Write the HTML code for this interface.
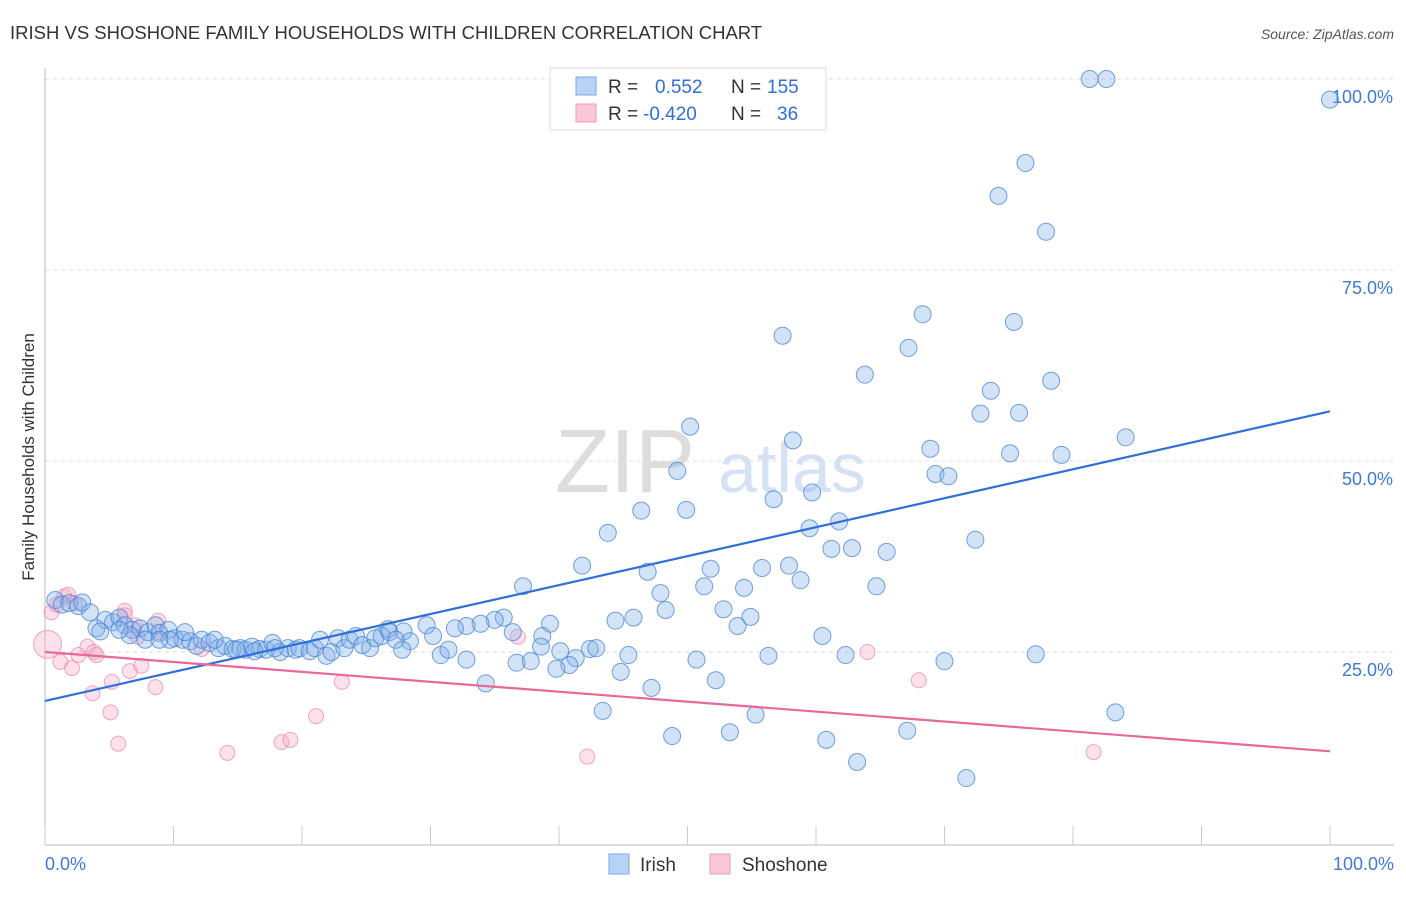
<!DOCTYPE html>
<html><head><meta charset="utf-8"><style>
body{margin:0;background:#fff;font-family:"Liberation Sans",sans-serif;}
svg text{font-family:"Liberation Sans",sans-serif;}
</style></head><body>
<svg id="c" width="1406" height="892">
<text x="10" y="39" font-size="18.5" fill="#333">IRISH VS SHOSHONE FAMILY HOUSEHOLDS WITH CHILDREN CORRELATION CHART</text>
<text x="1394" y="39" font-size="14" fill="#555" text-anchor="end" font-style="italic">Source: ZipAtlas.com</text>
<text x="555" y="492" font-size="90" fill="#ddd" font-family="Liberation Serif">ZIP</text>
<text x="718" y="492" font-size="70" fill="#d4e2f4">atlas</text>
<text transform="translate(34,457) rotate(-90)" font-size="17" fill="#333" text-anchor="middle">Family Households with Children</text>
<g id="grid"></g><g id="pts"></g><g id="trend"></g>
<g>
<rect x="550" y="68" width="276" height="62" fill="#fff" stroke="#ddd"/>
<rect x="576" y="77" width="20" height="18" fill="#b8d3f5" stroke="#7aa9e3"/>
<rect x="576" y="104" width="20" height="18" fill="#fac8d8" stroke="#f09ab8"/>
<text x="608" y="93" font-size="19" fill="#333">R =</text><text x="655" y="93" font-size="19" fill="#2f6fd8">0.552</text>
<text x="731" y="93" font-size="19" fill="#333">N =</text><text x="767" y="93" font-size="19" fill="#2f6fd8">155</text>
<text x="608" y="120" font-size="19" fill="#333">R =</text><text x="643" y="120" font-size="19" fill="#2f6fd8">-0.420</text>
<text x="731" y="120" font-size="19" fill="#333">N =</text><text x="777" y="120" font-size="19" fill="#2f6fd8">36</text>
</g>
<g>
<rect x="609" y="854" width="20" height="20" fill="#b8d3f5" stroke="#7aa9e3"/>
<text x="640" y="871" font-size="19" fill="#333">Irish</text>
<rect x="710" y="854" width="20" height="20" fill="#fac8d8" stroke="#f09ab8"/>
<text x="742" y="871" font-size="19" fill="#333">Shoshone</text>
</g>
</svg>
<script>
const yTicks=[25,50,75,100];
const yTickLabels=["25.0%","50.0%","75.0%","100.0%"];
const xTickLabels=["0.0%","100.0%"];
const irishX=[81.3,82.6,100,76.3,74.2,77.9,68.3,75.4,57.4,67.2,63.8,78.3,73.6,72.8,75.8,84.1,50.2,58.2,68.9,75.1,79.1,49.2,69.3,70.3,59.7,56.7,46.4,49.9,61.8,59.5,43.8,72.4,61.2,62.8,65.5,41.8,55.8,57.9,51.8,46.9,58.8,37.2,54.4,51.3,64.7,47.9,52.8,48.3,45.8,44.4,54.9,39.3,53.9,35.7,35.0,33.9,32.8,31.9,60.5,38.7,36.4,29.7,30.2,27.9,26.7,28.4,38.6,42.4,42.9,40.1,45.4,62.3,50.7,70.0,77.1,56.3,36.7,37.8,41.3,40.8,39.8,44.8,32.8,30.8,31.4,52.2,47.2,34.3,43.4,83.3,55.3,67.1,53.3,48.8,60.8,63.2,71.7,
0.8,1.3,1.9,2.6,2.9,3.5,4.0,4.7,5.3,5.8,6.2,6.8,7.4,8.0,8.6,8.9,9.6,10.1,10.7,11.3,11.8,12.2,12.8,13.5,14.0,14.6,15.2,15.6,16.1,16.7,17.2,17.7,18.3,18.9,19.5,19.8,20.6,21.0,21.4,21.9,22.3,22.8,23.3,23.7,24.2,24.7,25.3,25.7,26.2,26.8,27.3,27.8,4.3,10.9,13.2,14.9,16.3,6.6,9.7,7.8,17.9,5.8,8.9];
const irishY=[100,100,97.3,89.0,84.7,80.0,69.2,68.2,66.4,64.8,61.3,60.5,59.2,56.2,56.3,53.1,54.5,52.7,51.6,51.0,50.8,48.7,48.3,48.0,45.9,45.0,43.5,43.6,42.1,41.2,40.6,39.7,38.5,38.6,38.1,36.3,36.0,36.3,35.9,35.5,34.4,33.6,33.4,33.6,33.6,32.7,30.6,30.5,29.5,29.1,29.6,28.7,28.4,29.5,29.2,28.7,28.4,28.1,27.1,27.1,27.6,28.5,27.1,27.7,28.0,26.4,25.7,25.4,25.5,25.1,24.6,24.6,24.0,23.8,24.7,24.5,23.6,23.8,24.2,23.3,22.8,22.4,24.0,24.6,25.3,21.3,20.3,20.9,17.3,17.1,16.8,14.7,14.5,14.0,13.5,10.6,8.5,
31.8,31.2,31.4,31.0,31.5,30.2,28.1,29.2,28.9,29.5,28.5,27.9,28.1,27.6,28.5,27.5,27.9,26.8,26.6,26.4,25.8,26.6,26.2,25.5,25.8,25.4,25.5,25.3,25.7,25.4,25.3,26.2,25.0,25.5,25.3,25.5,25.1,25.5,26.6,24.5,25.0,26.8,25.5,26.6,27.1,25.9,25.5,26.8,27.1,27.6,26.6,25.3,27.7,27.6,26.6,25.3,25.1,27.2,26.6,26.6,25.5,27.9,26.6];
const shoX=[0.2,0.5,0.9,1.5,1.8,2.3,1.2,2.1,2.6,3.3,3.8,4.0,3.7,5.1,5.2,5.7,6.2,6.6,7.2,7.5,8.6,8.8,8.9,12.2,14.2,18.4,19.1,21.1,23.1,36.8,42.2,64.0,68.0,81.6,7.0,6.2];
const shoY=[26.0,30.2,31.2,32.3,32.5,31.4,23.7,22.9,24.6,25.7,25.0,24.6,19.6,17.1,21.1,13.0,30.4,22.5,27.0,23.2,20.4,29.1,27.6,25.4,11.8,13.2,13.5,16.6,21.1,27.0,11.3,25.0,21.3,11.9,28.5,29.8];
const irishTrend=[18.6,56.5];
const shoTrend=[25.0,12.0];
const X0=45,X1=1330,Y0=843,Y100=79;
const sx=v=>X0+(X1-X0)*v/100, sy=v=>Y0-(Y0-Y100)*v/100;
const NS="http://www.w3.org/2000/svg";
function mk(t,a,p){const e=document.createElementNS(NS,t);for(const k in a)e.setAttribute(k,a[k]);p.appendChild(e);return e;}
const grid=document.getElementById('grid');
yTicks.forEach((v,i)=>{
 const l=mk('line',{x1:X0,x2:1394,y1:sy(v),y2:sy(v),stroke:'#ddd','stroke-dasharray':'4,4'},grid);
 
 
 const t=mk('text',{x:1393,y:sy(v)+24,'font-size':18,fill:'#3d7ad8','text-anchor':'end'},grid);t.textContent=yTickLabels[i];
 
 
});
const ax=mk('line',{x1:X0,x2:X0,y1:68,y2:845,stroke:'#bbb'},grid);


const bx=mk('line',{x1:X0,x2:1394,y1:845,y2:845,stroke:'#bbb'},grid);


for(let i=0;i<=10;i++){const tk=mk('line',{x1:sx(i*10),x2:sx(i*10),y1:826,y2:845,stroke:'#ccc'},grid);
 
 }
[[0,'start',45],[100,'end',1394]].forEach((d,i)=>{const t=mk('text',{x:d[2],y:870,'font-size':18,fill:'#3d7ad8','text-anchor':d[1]},grid);t.textContent=xTickLabels[i];
 
 });
const pts=document.getElementById('pts');
shoX.forEach((x,i)=>{const c=mk('circle',{cx:sx(x),cy:sy(shoY[i]),r:i==0?14:7.5,fill:'rgba(246,170,196,0.35)',stroke:'rgba(236,130,170,0.7)'},pts);
 
 });
irishX.forEach((x,i)=>{const c=mk('circle',{cx:sx(x),cy:sy(irishY[i]),r:8.5,fill:'rgba(130,175,232,0.35)',stroke:'rgba(70,130,215,0.75)'},pts);
 
 });
const tr=document.getElementById('trend');
const l1=mk('line',{x1:sx(0),y1:sy(irishTrend[0]),x2:sx(100),y2:sy(irishTrend[1]),stroke:'#2f6fd8','stroke-width':2.2},tr);


const l2=mk('line',{x1:sx(0),y1:sy(shoTrend[0]),x2:sx(100),y2:sy(shoTrend[1]),stroke:'#e8689a','stroke-width':2.2},tr);


</script>
</body></html>
